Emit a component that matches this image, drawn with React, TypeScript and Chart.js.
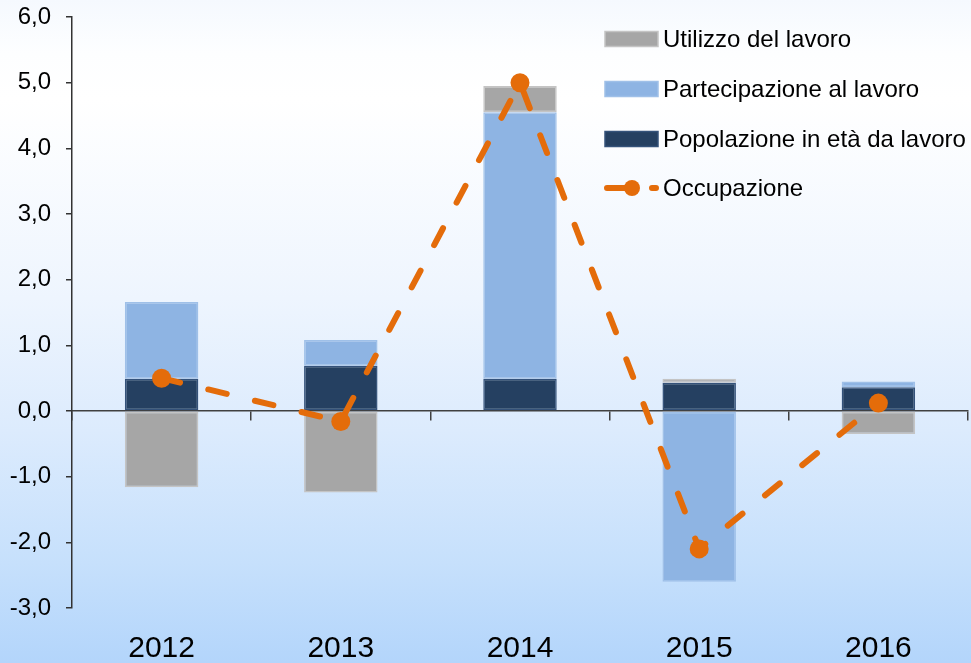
import React, { useEffect, useRef } from "react";
import { Chart, registerables } from "chart.js";

Chart.register(...registerables);

// ---- data ----
const categories = ["2012", "2013", "2014", "2015", "2016"];
const popolazione = [0.49, 0.69, 0.49, 0.43, 0.36];
const partecipazione = [1.17, 0.39, 4.06, -2.6, 0.09];
const utilizzo = [-1.16, -1.24, 0.4, 0.06, -0.35];
const occupazione = [0.5, -0.16, 5.0, -2.1, 0.12];
const yMin = -3;
const yMax = 6;
const seriesNames = [
  "Popolazione in età da lavoro",
  "Partecipazione al lavoro",
  "Utilizzo del lavoro",
  "Occupazione",
];

const ORANGE = "#E46C0A";
const FONT = "'Liberation Sans', Arial, sans-serif";

const legendPlugin = {
  id: "sideLegend",
  afterDraw(chart: any) {
    const { ctx } = chart;
    const ds = chart.data.datasets;
    const order = [2, 1, 0, 3];
    const boxX = 605;
    const boxW = 53;
    const boxH = 15;
    const textX = 663;
    const ys = [39, 89, 139, 188];
    ctx.save();
    ctx.font = `24px ${FONT}`;
    ctx.textBaseline = "middle";
    order.forEach((di, i) => {
      const d = ds[di];
      const y = ys[i];
      if (d.type === "line") {
        ctx.strokeStyle = d.borderColor;
        ctx.lineWidth = 6;
        ctx.lineCap = "round";
        ctx.beginPath();
        ctx.moveTo(607, y);
        ctx.lineTo(630, y);
        ctx.moveTo(652, y);
        ctx.lineTo(656, y);
        ctx.stroke();
        ctx.beginPath();
        ctx.arc(632, y, 8, 0, Math.PI * 2);
        ctx.fillStyle = d.borderColor;
        ctx.fill();
      } else {
        ctx.fillStyle = d.backgroundColor;
        ctx.fillRect(boxX, y - boxH / 2, boxW, boxH);
        ctx.strokeStyle = d.borderColor;
        ctx.lineWidth = 1.5;
        ctx.strokeRect(boxX, y - boxH / 2, boxW, boxH);
      }
      ctx.fillStyle = "#000";
      ctx.fillText(d.label, textX, y + 1);
    });
    ctx.restore();
  },
};

export default function App() {
  const ref = useRef<HTMLCanvasElement>(null);

  useEffect(() => {
    document.body.style.margin = "0";
    Chart.defaults.font.family = FONT;
    const barCommon = {
      type: "bar",
      borderWidth: 1.5,
      borderSkipped: false,
      barPercentage: 0.41,
      categoryPercentage: 1,
      stack: "s",
      order: 1,
      xAxisID: "x",
      yAxisID: "y",
    };
    const chart = new Chart(ref.current as HTMLCanvasElement, {
      type: "bar",
      data: {
        labels: categories,
        datasets: [
          {
            ...barCommon,
            label: seriesNames[0],
            data: popolazione,
            backgroundColor: "#254061",
            borderColor: "#34527A",
          },
          {
            ...barCommon,
            label: seriesNames[1],
            data: partecipazione,
            backgroundColor: "#8EB4E3",
            borderColor: "#9FC0E8",
          },
          {
            ...barCommon,
            label: seriesNames[2],
            data: utilizzo,
            backgroundColor: "#A6A6A6",
            borderColor: "#C4C4C4",
          },
          {
            type: "line",
            label: seriesNames[3],
            data: occupazione,
            borderColor: ORANGE,
            backgroundColor: ORANGE,
            borderWidth: 6,
            borderDash: [19, 29],
            borderCapStyle: "round",
            pointRadius: 9.5,
            pointBackgroundColor: ORANGE,
            pointBorderColor: ORANGE,
            pointBorderWidth: 0,
            tension: 0,
            fill: false,
            stack: "occ",
            order: 0,
            xAxisID: "x",
            yAxisID: "y",
          },
        ] as any,
      },
      options: {
        responsive: false,
        animation: false,
        devicePixelRatio: 1,
        layout: { autoPadding: false, padding: { top: 17, right: 3, left: 0, bottom: 0 } },
        plugins: {
          legend: { display: false },
          tooltip: { enabled: false },
          title: { display: false },
        },
        scales: {
          x: {
            type: "category",
            position: "bottom",
            stacked: true,
            grid: { display: false, drawTicks: false },
            border: { display: false },
            ticks: {
              color: "#000",
              padding: 23,
              maxRotation: 0,
              font: { size: 30 },
            },
            afterFit: (s: any) => {
              s.height = 55;
              s.paddingLeft = 0;
              s.paddingRight = 0;
              s.paddingTop = 0;
              s.paddingBottom = 0;
            },
          },
          x0: {
            type: "category",
            position: { y: 0 } as any,
            offset: true,
            grid: {
              offset: true,
              drawOnChartArea: false,
              drawTicks: true,
              tickLength: 9,
              color: "#404040",
              lineWidth: 1.5,
            },
            border: { display: true, color: "#404040", width: 1.5 },
            ticks: { display: false },
            afterFit: (s: any) => {
              s.paddingLeft = 0;
              s.paddingRight = 0;
              s.paddingTop = 0;
              s.paddingBottom = 0;
            },
          },
          y: {
            type: "linear",
            stacked: true,
            min: yMin,
            max: yMax,
            ticks: {
              stepSize: 1,
              color: "#000",
              padding: 15,
              font: { size: 24 },
              callback: (v: any) => Number(v).toFixed(1).replace(".", ","),
            },
            grid: {
              drawOnChartArea: false,
              drawTicks: true,
              tickLength: 6,
              color: "#333",
              lineWidth: 1.5,
            },
            border: { display: true, color: "#333", width: 1.5 },
            afterFit: (s: any) => {
              s.width = 72;
              s.paddingTop = 0;
              s.paddingBottom = 0;
              s.paddingLeft = 0;
              s.paddingRight = 0;
            },
          },
        },
      } as any,
      plugins: [legendPlugin],
    });
    return () => chart.destroy();
  }, []);

  return (
    <div
      style={{
        position: "absolute",
        left: 0,
        top: 0,
        width: 971,
        height: 663,
        overflow: "hidden",
        background:
          "linear-gradient(to bottom, #F5F9FE 0%, #FDFEFF 8%, #FFFFFF 15%, #EEF5FE 45%, #DCEBFD 65%, #C6E0FC 85%, #B3D5FB 100%)",
      }}
    >
      <canvas ref={ref} width={971} height={663} style={{ display: "block" }} />
    </div>
  );
}
